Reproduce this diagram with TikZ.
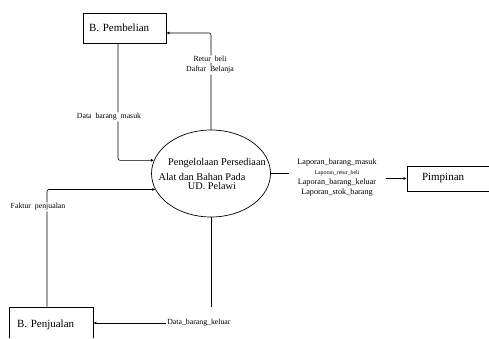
\documentclass[tikz,border=0pt]{standalone}
\usepackage{fontspec}
\setmainfont{Liberation Serif}
\usetikzlibrary{arrows.meta,positioning,calc,shapes.geometric}

\tikzset{
  entity/.style={draw,sharp corners,line width=0.7pt,rectangle,align=left,font=\fontsize{11}{13}\selectfont},
  flowlbl/.style={fill=white,inner sep=1pt,font=\fontsize{7.8}{9}\selectfont},
  arr/.style={-{Latex[length=3pt,width=3pt]}},
}

\begin{document}
\begin{tikzpicture}[x=1pt,y=-1pt,line width=0.6pt,rounded corners=2pt]
  \clip (0,0) rectangle (489,338);
  % entities and process
  \node[entity,minimum width=83pt,minimum height=30pt,inner xsep=6pt,text width=71pt] (pemb) at (124.5,28) {B. Pembelian};
  \node[entity,minimum width=84pt,minimum height=36pt,inner xsep=8pt,text width=68pt] (penj) at (51,325) {B. Penjualan};
  \node[entity,minimum width=90pt,minimum height=25pt,inner xsep=15pt,text width=60pt] (pimp) at (452,178.5) {Pimpinan};
  \node[draw,ellipse,line width=0.7pt,minimum width=119pt,minimum height=87pt] (proc) at (211,173.5) {};
  \node[font=\fontsize{10.3}{12}\selectfont] (procA) at (217,163) {Pengelolaan Persediaan};
  \node[font=\fontsize{10.3}{12}\selectfont] (procB) at (202,177) {Alat dan Bahan Pada};
  \node[font=\fontsize{10.3}{12}\selectfont] (procC) at (212,186) {UD. Pelawi};
  % Pembelian <-> proses
  \draw[arr] ([xshift=-6.5pt]pemb.south) |- (proc.167);
  \node[flowlbl] (masuk) at (109,117) {Data\ \ barang\ \ masuk};
  \draw[arr] (proc.north) |- ([yshift=-5pt]pemb.east);
  \node[flowlbl] (retur) at (210,59) {Retur\ \ beli};
  \node[flowlbl] (daftar) at (210,70) {Daftar\ \ Belanja};
  % Penjualan <-> proses
  \draw[arr] ([xshift=-4pt]penj.north) |- (proc.196);
  \node[flowlbl] (faktur) at (38,207) {Faktur\ \ penjualan};
  \draw (proc.south) -- (proc.south |- penj.north);
  \node[flowlbl,anchor=west] (keluar) at (166,323) {Data\_barang\_keluar};
  \draw[arr] (keluar.west) -- (keluar.west -| penj.east);
  % laporan ke pimpinan
  \node[align=center,font=\fontsize{8.2}{9.8}\selectfont] (lap) at (337,177.5)
    {Laporan\_barang\_masuk\\{\fontsize{5.8}{9.8}\selectfont Laporan\_retur\_beli}\\Laporan\_barang\_keluar\\Laporan\_stok\_barang};
  \draw (proc.east) -- ([xshift=-5pt]lap.west |- proc.east);
  \draw[arr] ([xshift=6pt]lap.east |- pimp.west) -- (pimp.west);
\end{tikzpicture}
\end{document}
